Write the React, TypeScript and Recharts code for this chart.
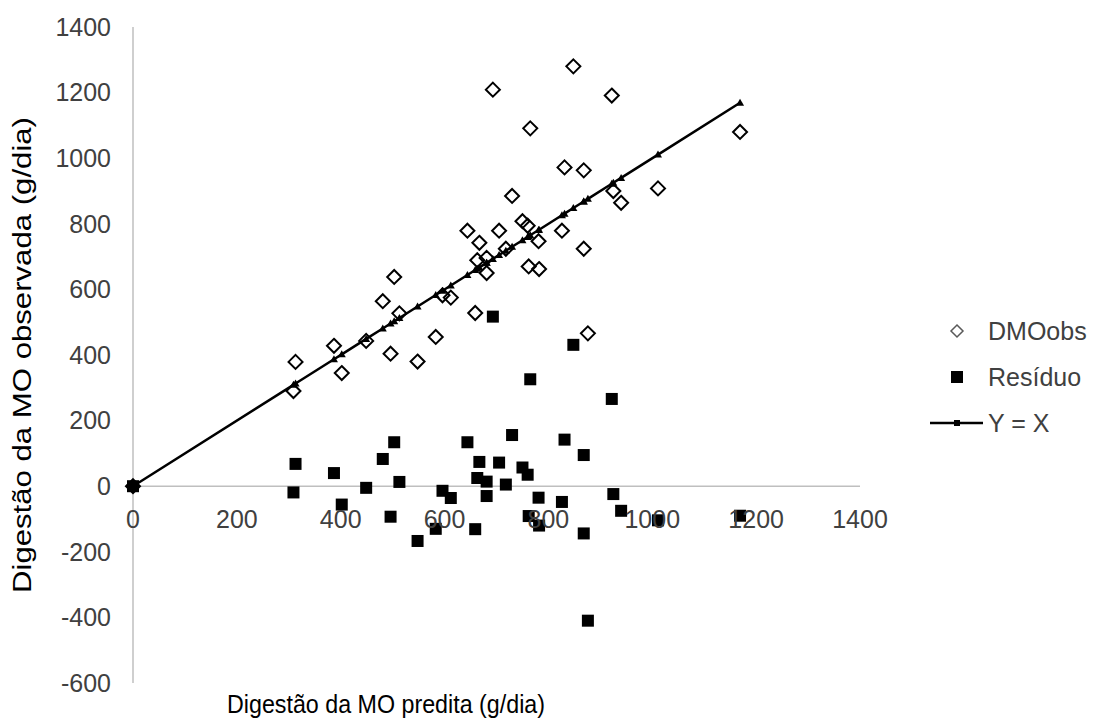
import { Label, ReferenceLine, Scatter, ScatterChart, XAxis, YAxis } from "recharts";

// DMO predita (x), observada, e resíduo (observada - predita)
const predicted = [0, 309, 313, 387, 402, 449, 481, 496, 503, 513, 548, 583, 596, 612, 644, 659, 663, 667, 681, 681, 693, 705, 718, 730, 750, 760, 762, 765, 781, 782, 826, 831, 848, 868, 868, 876, 922, 925, 940, 1011, 1169];
const observed = [0, 290, 379, 428, 345, 443, 564, 404, 638, 527, 380, 455, 582, 575, 779, 528, 689, 742, 696, 650, 1209, 779, 724, 885, 808, 794, 670, 1091, 747, 662, 779, 972, 1280, 963, 724, 466, 1191, 900, 864, 908, 1080];
const residual = [0, -19, 68, 40, -56, -5, 83, -93, 134, 13, -167, -130, -14, -36, 134, -131, 25, 74, 14, -30, 517, 72, 5, 156, 57, 35, -91, 326, -35, -120, -48, 142, 431, 95, -144, -410, 266, -24, -75, -104, -90];

const xTicks = [0, 200, 400, 600, 800, 1000, 1200, 1400];
const yTicks = [-600, -400, -200, 0, 200, 400, 600, 800, 1000, 1200, 1400];

const seriesNames = ["DMOobs", "Resíduo", "Y = X"];
const xTitle = "Digestão da MO predita (g/dia)";
const yTitle = "Digestão da MO observada (g/dia)";

const obsData = predicted.map((x, i) => ({ x, y: observed[i] }));
const resData = predicted.map((x, i) => ({ x, y: residual[i] }));
const lineData = predicted.map((x) => ({ x, y: x }));

const W = 1096;
const H = 720;
const PLOT_TOP = 27;
const PLOT_BOTTOM = 683;
const Y_MIN = -600;
const Y_MAX = 1400;
const zeroY = PLOT_TOP + ((PLOT_BOTTOM - PLOT_TOP) * Y_MAX) / (Y_MAX - Y_MIN);

const FONT = "'Liberation Sans', Arial, sans-serif";
const TICK_COLOR = "#404040";
const AXIS_COLOR = "#bfbfbf";

const Diamond = (p: any) => (
  <path
    d={`M${p.cx},${p.cy - 7}L${p.cx + 7},${p.cy}L${p.cx},${p.cy + 7}L${p.cx - 7},${p.cy}Z`}
    fill="none"
    stroke="#000"
    strokeWidth={2}
  />
);

const Square = (p: any) => <rect x={p.cx - 6} y={p.cy - 6} width={12} height={12} fill="#000" />;

const Tri = (p: any) => (
  <path d={`M${p.cx},${p.cy - 4}L${p.cx + 4},${p.cy + 3}L${p.cx - 4},${p.cy + 3}Z`} fill="#000" />
);

// x tick labels sit under the y=0 line, not at the bottom of the plot
function XTick(props: any) {
  const { x, payload } = props;
  return (
    <text x={x} y={zeroY + 42} textAnchor="middle" fontSize={25} fill={TICK_COLOR} fontFamily={FONT}>
      {payload.value}
    </text>
  );
}

// excel's titles come out a bit squeezed / stretched, so force their lengths
function XTitle() {
  return (
    <text
      x={386}
      y={713}
      textAnchor="middle"
      fontSize={26}
      fill="#000"
      fontFamily={FONT}
      textLength={318}
      lengthAdjust="spacingAndGlyphs"
    >
      {xTitle}
    </text>
  );
}

function YTitle(props: any) {
  const { viewBox } = props;
  const cx = 22;
  const cy = viewBox.y + viewBox.height / 2;
  return (
    <text
      x={cx}
      y={cy}
      transform={`rotate(-90 ${cx} ${cy})`}
      textAnchor="middle"
      dominantBaseline="central"
      fontSize={26}
      fill="#000"
      fontFamily={FONT}
      textLength={476}
      lengthAdjust="spacingAndGlyphs"
    >
      {yTitle}
    </text>
  );
}

function LegendBox() {
  const row = { display: "flex", alignItems: "center", height: 46 } as const;
  const text = { marginLeft: 5, fontSize: 25, color: TICK_COLOR, fontFamily: FONT, lineHeight: "28px" };
  return (
    <div style={{ position: "absolute", left: 925, top: 308 }}>
      <div style={row}>
        <svg width={58} height={20}>
          <path d="M32,4L38,10L32,16L26,10Z" fill="none" stroke="#595959" strokeWidth={1.5} />
        </svg>
        <span style={text}>{seriesNames[0]}</span>
      </div>
      <div style={row}>
        <svg width={58} height={20}>
          <rect x={26} y={4} width={12} height={12} fill="#000" />
        </svg>
        <span style={text}>{seriesNames[1]}</span>
      </div>
      <div style={row}>
        <svg width={58} height={20}>
          <line x1={5} y1={10} x2={58} y2={10} stroke="#000" strokeWidth={2.5} />
          <rect x={29} y={7} width={6} height={6} fill="#000" />
        </svg>
        <span style={text}>{seriesNames[2]}</span>
      </div>
    </div>
  );
}

export default function App() {
  return (
    <div style={{ position: "absolute", left: 0, top: 0, width: W, height: H, background: "#fff" }}>
      <ScatterChart width={W} height={H} margin={{ top: PLOT_TOP, right: 236, bottom: 0, left: 0 }}>
        <XAxis
          type="number"
          dataKey="x"
          domain={[0, 1400]}
          ticks={xTicks}
          axisLine={false}
          tickLine={false}
          tick={<XTick />}
          height={H - PLOT_BOTTOM}
        >
          <Label content={<XTitle />} />
        </XAxis>
        <YAxis
          type="number"
          dataKey="y"
          domain={[Y_MIN, Y_MAX]}
          ticks={yTicks}
          width={133}
          axisLine={{ stroke: AXIS_COLOR, strokeWidth: 1.5 }}
          tickLine={false}
          tickSize={0}
          tickMargin={22}
          tick={{ fontSize: 25, fill: TICK_COLOR, fontFamily: FONT }}
        >
          <Label content={<YTitle />} />
        </YAxis>
        <ReferenceLine y={0} stroke={AXIS_COLOR} strokeWidth={1.5} />
        <Scatter name={seriesNames[0]} data={obsData} shape={Diamond} isAnimationActive={false} />
        <Scatter name={seriesNames[1]} data={resData} shape={Square} isAnimationActive={false} />
        <Scatter
          name={seriesNames[2]}
          data={lineData}
          shape={Tri}
          line={{ stroke: "#000", strokeWidth: 2.5 }}
          lineType="joint"
          isAnimationActive={false}
        />
      </ScatterChart>
      <LegendBox />
    </div>
  );
}
